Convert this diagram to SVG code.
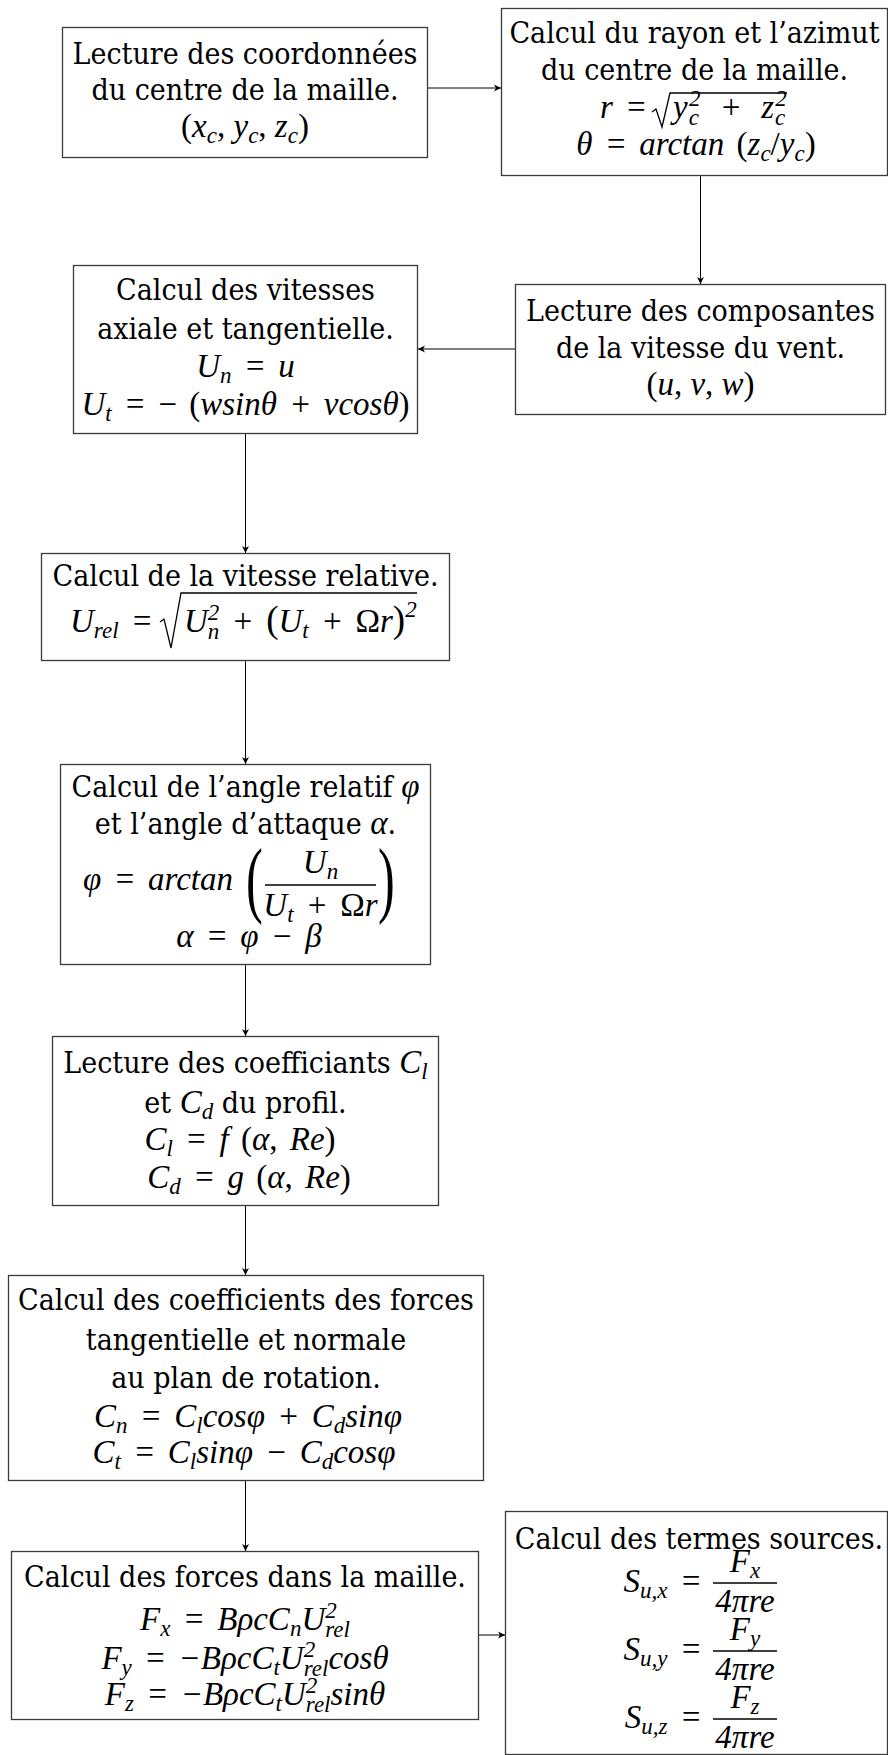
<svg xmlns="http://www.w3.org/2000/svg" width="888" height="1755" viewBox="0 0 888 1755">
<defs>
<style>
.box{fill:#fff;stroke:#3a3a3a;stroke-width:1.3}
.p{font-family:"DejaVu Serif Condensed","DejaVu Serif",serif;font-stretch:semi-condensed;font-size:30px;fill:#000;text-anchor:middle}
.m{font-family:"Liberation Serif",serif;font-size:33px;font-style:italic;fill:#000;text-anchor:middle;word-spacing:4px}
.mi{font-family:"Liberation Serif",serif;font-size:33px;font-style:italic}
.u{font-style:normal}
.s{font-size:23px}
.st{text-anchor:start}
.en{text-anchor:end}
.bar{stroke:#000;stroke-width:1.3;fill:none}
.rad{stroke:#000;stroke-width:1.3;fill:none;stroke-linejoin:miter}
.bp{font-family:"Liberation Serif",serif;font-size:84px;fill:#000}
.c{stroke:#000;stroke-width:1;fill:none;marker-end:url(#ah)}
</style>
<marker id="ah" viewBox="-8 -4 8 8" refX="0" refY="0" markerWidth="8" markerHeight="8" markerUnits="userSpaceOnUse" orient="auto">
<path d="M0,0 L-7,-3.5 L-5,0 L-7,3.5 Z" fill="#000"/>
</marker>
</defs>
<rect width="888" height="1755" fill="#fff"/>

<g id="connectors">
<path class="c" d="M427.5,88 H501"/>
<path class="c" d="M700.5,175.5 V284"/>
<path class="c" d="M515.5,349 H418"/>
<path class="c" d="M245.5,433.5 V553"/>
<path class="c" d="M245.5,660.5 V764"/>
<path class="c" d="M245.5,964.5 V1036"/>
<path class="c" d="M245.5,1205.5 V1275"/>
<path class="c" d="M245.5,1480.5 V1551"/>
<path class="c" d="M478.5,1635 H505"/>
</g>

<g id="n1">
<rect class="box" x="62.5" y="27.5" width="365" height="130"/>
<text class="p" x="245" y="64">Lecture des coordonnées</text>
<text class="p" x="245" y="100">du centre de la maille.</text>
<text class="m" x="245" y="137" style="word-spacing:0"><tspan class="u">(</tspan>x<tspan class="s" dy="6">c</tspan><tspan class="u" dy="-6">, </tspan>y<tspan class="s" dy="6">c</tspan><tspan class="u" dy="-6">, </tspan>z<tspan class="s" dy="6">c</tspan><tspan class="u" dy="-6">)</tspan></text>
</g>

<g id="n2">
<rect class="box" x="501.5" y="8.5" width="386" height="167"/>
<text class="p" x="694.5" y="43">Calcul du rayon et l’azimut</text>
<text class="p" x="694.5" y="80">du centre de la maille.</text>
<text class="m st" x="600" y="118">r =</text>
<path class="rad" d="M652,112 L656,109 L662,127 L670,93 H787"/>
<text class="m st" x="673" y="118" style="word-spacing:9px;letter-spacing:1px">y<tspan class="s" dy="7">c</tspan><tspan class="s" dx="-11" dy="-19">2</tspan><tspan dy="12"> + z</tspan><tspan class="s" dy="7">c</tspan><tspan class="s" dx="-11" dy="-19">2</tspan></text>
<text class="m" x="696" y="155">θ = arctan <tspan class="u">(</tspan>z<tspan class="s" dy="6">c</tspan><tspan class="u" dy="-6">/</tspan>y<tspan class="s" dy="6">c</tspan><tspan class="u" dy="-6">)</tspan></text>
</g>

<g id="n3">
<rect class="box" x="515.5" y="284.5" width="370" height="130"/>
<text class="p" x="700.5" y="321">Lecture des composantes</text>
<text class="p" x="700.5" y="358">de la vitesse du vent.</text>
<text class="m" x="700.5" y="395" style="word-spacing:0"><tspan class="u">(</tspan>u<tspan class="u">, </tspan>v<tspan class="u">, </tspan>w<tspan class="u">)</tspan></text>
</g>

<g id="n4">
<rect class="box" x="73.5" y="265.5" width="344" height="168"/>
<text class="p" x="245.5" y="300">Calcul des vitesses</text>
<text class="p" x="245.5" y="339">axiale et tangentielle.</text>
<text class="m" x="245.5" y="377">U<tspan class="s" dy="6">n</tspan><tspan dy="-6"> = u</tspan></text>
<text class="m" x="245.5" y="415">U<tspan class="s" dy="6">t</tspan><tspan dy="-6"> = </tspan><tspan class="u">− (</tspan>wsinθ + vcosθ<tspan class="u">)</tspan></text>
</g>

<g id="n5">
<rect class="box" x="41.5" y="553.5" width="408" height="107"/>
<text class="p" x="245.5" y="586">Calcul de la vitesse relative.</text>
<text class="m st" x="70" y="632">U<tspan class="s" dy="6">rel</tspan><tspan dy="-6"> =</tspan></text>
<path class="rad" d="M160,622 L164,619 L171,648 L181,593 H417"/>
<text class="m st" x="184" y="632">U<tspan class="s" dy="7">n</tspan><tspan class="s" dx="-11.5" dy="-19">2</tspan><tspan dy="12"> + </tspan><tspan class="u" style="font-size:37px">(</tspan>U<tspan class="s" dy="6">t</tspan><tspan dy="-6"> + </tspan><tspan class="u">Ω</tspan>r<tspan class="u" style="font-size:37px">)</tspan><tspan class="s" dy="-15">2</tspan></text>
</g>

<g id="n6">
<rect class="box" x="60.5" y="764.5" width="370" height="200"/>
<text class="p" x="245.5" y="797">Calcul de l’angle relatif <tspan class="mi">φ</tspan></text>
<text class="p" x="245.5" y="834">et l’angle d’attaque <tspan class="mi">α</tspan>.</text>
<text class="m st" x="83" y="890">φ = arctan</text>
<text class="bp" transform="translate(246,907) scale(0.6,1)">(</text>
<line class="bar" x1="265" y1="885" x2="376" y2="885"/>
<text class="m" x="320.5" y="873">U<tspan class="s" dy="6">n</tspan></text>
<text class="m" x="320.5" y="916">U<tspan class="s" dy="6">t</tspan><tspan dy="-6"> + </tspan><tspan class="u">Ω</tspan>r</text>
<text class="bp" transform="translate(378,907) scale(0.6,1)">)</text>
<text class="m" x="249" y="947">α = φ − β</text>
</g>

<g id="n7">
<rect class="box" x="52.5" y="1036.5" width="386" height="169"/>
<text class="p" x="245.5" y="1073">Lecture des coefficiants <tspan class="mi">C</tspan><tspan class="mi s" dy="6">l</tspan></text>
<text class="p" x="245.5" y="1113">et <tspan class="mi">C</tspan><tspan class="mi s" dy="6">d</tspan><tspan dy="-6"> du profil.</tspan></text>
<text class="m" x="240" y="1150">C<tspan class="s" dy="6">l</tspan><tspan dy="-6"> = f </tspan><tspan class="u">(</tspan>α<tspan class="u">, </tspan>Re<tspan class="u">)</tspan></text>
<text class="m" x="249" y="1188">C<tspan class="s" dy="6">d</tspan><tspan dy="-6"> = g </tspan><tspan class="u">(</tspan>α<tspan class="u">, </tspan>Re<tspan class="u">)</tspan></text>
</g>

<g id="n8">
<rect class="box" x="8.5" y="1275.5" width="475" height="205"/>
<text class="p" x="246" y="1310">Calcul des coefficients des forces</text>
<text class="p" x="246" y="1350">tangentielle et normale</text>
<text class="p" x="246" y="1388">au plan de rotation.</text>
<text class="m" x="248" y="1427">C<tspan class="s" dy="6">n</tspan><tspan dy="-6"> = C</tspan><tspan class="s" dy="6">l</tspan><tspan dy="-6">cosφ + C</tspan><tspan class="s" dy="6">d</tspan><tspan dy="-6">sinφ</tspan></text>
<text class="m" x="244" y="1463">C<tspan class="s" dy="6">t</tspan><tspan dy="-6"> = C</tspan><tspan class="s" dy="6">l</tspan><tspan dy="-6">sinφ − C</tspan><tspan class="s" dy="6">d</tspan><tspan dy="-6">cosφ</tspan></text>
</g>

<g id="n9">
<rect class="box" x="11.5" y="1551.5" width="467" height="168"/>
<text class="p" x="245" y="1587">Calcul des forces dans la maille.</text>
<text class="m" x="245" y="1630">F<tspan class="s" dy="6">x</tspan><tspan dy="-6"> = BρcC</tspan><tspan class="s" dy="6">n</tspan><tspan dy="-6">U</tspan><tspan class="s" dy="-12">2</tspan><tspan class="s" dx="-11.5" dy="19">rel</tspan></text>
<text class="m" x="245" y="1669">F<tspan class="s" dy="6">y</tspan><tspan dy="-6"> = −BρcC</tspan><tspan class="s" dy="6">t</tspan><tspan dy="-6">U</tspan><tspan class="s" dy="-12">2</tspan><tspan class="s" dx="-11.5" dy="19">rel</tspan><tspan dy="-7">cosθ</tspan></text>
<text class="m" x="245" y="1705">F<tspan class="s" dy="6">z</tspan><tspan dy="-6"> = −BρcC</tspan><tspan class="s" dy="6">t</tspan><tspan dy="-6">U</tspan><tspan class="s" dy="-12">2</tspan><tspan class="s" dx="-11.5" dy="19">rel</tspan><tspan dy="-7">sinθ</tspan></text>
</g>

<g id="n10">
<rect class="box" x="505.5" y="1511.5" width="382" height="243"/>
<text class="p" x="699" y="1549">Calcul des termes sources.</text>
<text class="m en" x="702" y="1592">S<tspan class="s" dy="6">u,x</tspan><tspan dy="-6"> =</tspan></text>
<line class="bar" x1="713" y1="1583" x2="777" y2="1583"/>
<text class="m" x="745" y="1572">F<tspan class="s" dy="6">x</tspan></text>
<text class="m" x="745" y="1612">4πre</text>
<text class="m en" x="702" y="1660">S<tspan class="s" dy="6">u,y</tspan><tspan dy="-6"> =</tspan></text>
<line class="bar" x1="713" y1="1651" x2="777" y2="1651"/>
<text class="m" x="745" y="1640">F<tspan class="s" dy="6">y</tspan></text>
<text class="m" x="745" y="1680">4πre</text>
<text class="m en" x="702" y="1728">S<tspan class="s" dy="6">u,z</tspan><tspan dy="-6"> =</tspan></text>
<line class="bar" x1="713" y1="1719" x2="777" y2="1719"/>
<text class="m" x="745" y="1708">F<tspan class="s" dy="6">z</tspan></text>
<text class="m" x="745" y="1748">4πre</text>
</g>
</svg>
